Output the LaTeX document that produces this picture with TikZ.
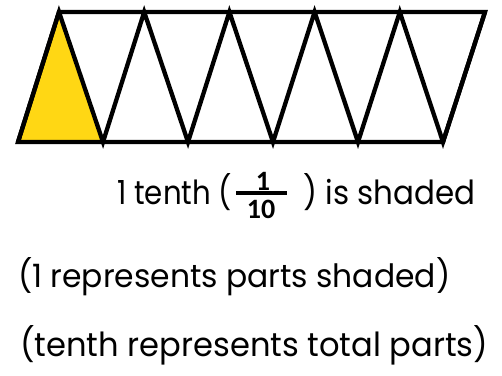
\documentclass[tikz,border=0pt]{standalone}
\usepackage{fontspec}
\setmainfont{Poppins}
\newfontfamily\fracfont{Carlito}
\definecolor{tenthyellow}{RGB}{255,215,20}
\begin{document}
\begin{tikzpicture}[x=1pt,y=-1pt,
  edge/.style={line width=4.3pt, line join=miter, draw=black},
  txt/.style={inner sep=0pt, anchor=base west},
  frac/.style={inner sep=0pt, font=\fracfont\bfseries\fontsize{28}{28}\selectfont}]
\useasboundingbox (0,0) rectangle (502,375);
\foreach \k in {0,...,5} {
  \coordinate (b\k) at ({18+85*\k},142);
  \coordinate (t\k) at ({59+85.2*\k},12);
}
\fill[tenthyellow] (b0) -- (t0) -- (b1) -- cycle;
\draw[edge] (b0) -- (b5) -- (t5) -- (t0) -- cycle;
\draw[edge] (b0) -- (t0) -- (b1) -- (t1) -- (b2) -- (t2) -- (b3) -- (t3) -- (b4) -- (t4) -- (b5) -- (t5);
% line 1
\node[txt] (pa) at (117,204) {\resizebox{115pt}{31pt}{1 tenth (}};
\node[txt] (pb) at (303,204) {\resizebox{172pt}{31pt}{) is shaded}};
\node[frac] (num) at (263,181) {1};
\node[frac] (den) at (261,209) {10};
\coordinate (barL) at (236,193);
\coordinate (barR) at (287,193);
\draw[line width=3.2pt] (barL) -- (barR);
% line 2
\node[txt] (lb) at (18,287) {\resizebox{432pt}{30pt}{(1 represents parts shaded)}};
% line 3
\node[txt] (lc) at (20,356) {\resizebox{468pt}{31pt}{(tenth represents total parts)}};
\end{tikzpicture}
\end{document}
